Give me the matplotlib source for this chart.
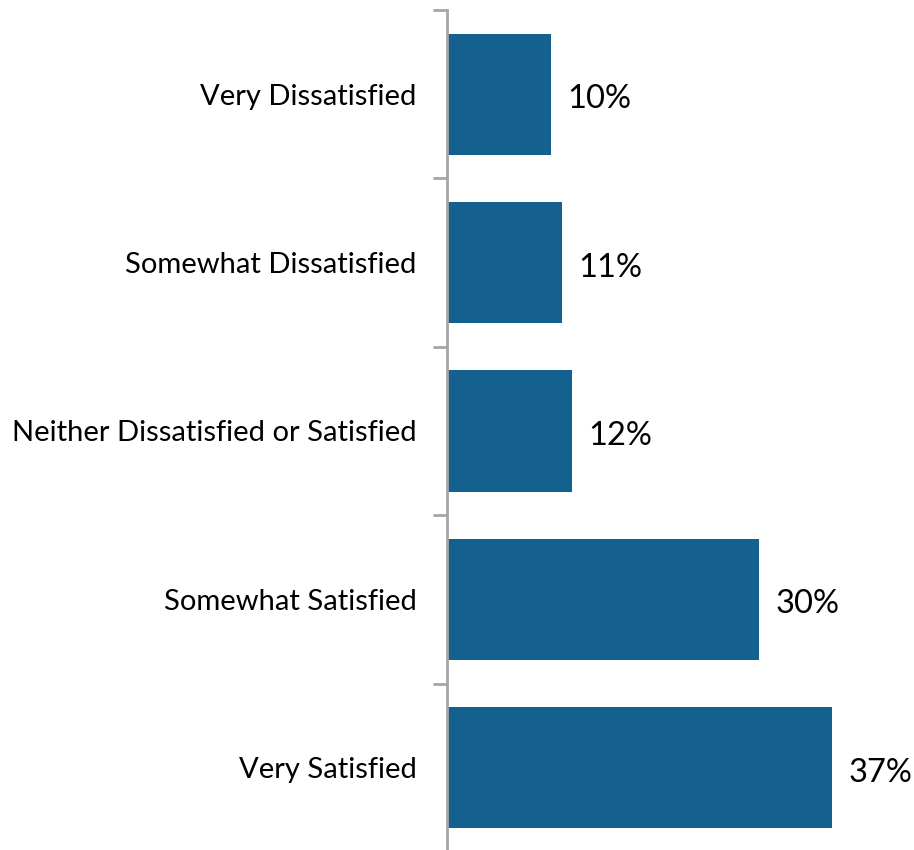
import matplotlib
matplotlib.use("Agg")
import matplotlib.pyplot as plt

categories = ["Very Dissatisfied", "Somewhat Dissatisfied",
              "Neither Dissatisfied or Satisfied", "Somewhat Satisfied",
              "Very Satisfied"]
values = [10, 11, 12, 30, 37]
value_labels = ["10%", "11%", "12%", "30%", "37%"]

plt.rcParams['font.family'] = ['Lato', 'DejaVu Sans']

fig = plt.figure(figsize=(9.14, 8.5), dpi=100)
ax = fig.add_axes([447 / 914, -2 / 850, 458 / 914, 842 / 850])

ypos = list(range(len(categories)))
ax.barh(ypos, values, height=0.72, color="#14608F", left=0)

for y, v, lab in zip(ypos, values, value_labels):
    ax.text(v + 1.6, y + 0.03, lab, va="center", ha="left", fontsize=23.5, color="black")

ax.set_xlim(0, 44)
ax.set_ylim(4.5, -0.5)

# category labels centered, ticks at boundaries
ax.set_yticks(ypos)
ax.set_yticklabels(categories, fontsize=21)
ax.tick_params(axis="y", which="major", length=0, pad=22)
ax.set_yticks([i - 0.5 for i in range(len(categories) + 1)], minor=True)
ax.tick_params(axis="y", which="minor", length=10, width=2, color="#A6A6A6")

ax.set_xticks([])
for s in ["top", "right", "bottom"]:
    ax.spines[s].set_visible(False)
ax.spines["left"].set_color("#A6A6A6")
ax.spines["left"].set_linewidth(2)

fig.savefig("out.png", dpi=100)
